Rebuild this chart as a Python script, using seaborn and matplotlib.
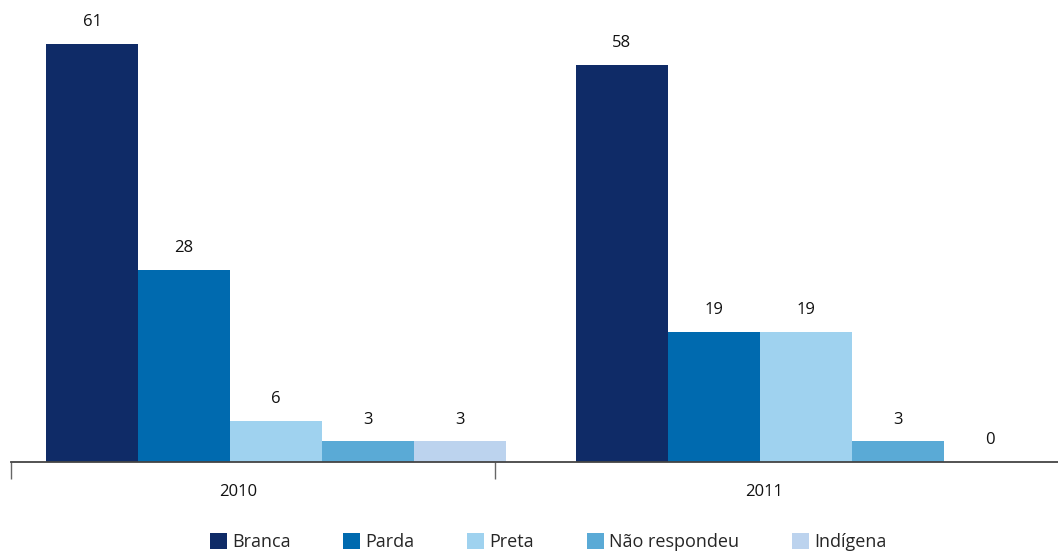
import matplotlib
matplotlib.use("Agg")
import matplotlib.pyplot as plt
import seaborn as sns
import pandas as pd
from matplotlib.patches import Patch

years = ["2010", "2011"]
categories = ["Branca", "Parda", "Preta", "Não respondeu", "Indígena"]
values_2010 = [61, 28, 6, 3, 3]
values_2011 = [58, 19, 19, 3, 0]
colors = ["#0f2b67", "#006aaf", "#9fd2ef", "#5aaad6", "#bcd3ee"]

rows = []
for y, vals in zip(years, [values_2010, values_2011]):
    for c, v in zip(categories, vals):
        rows.append({"Ano": y, "Cor": c, "Valor": v})
df = pd.DataFrame(rows)

sns.set_theme(style="white")
plt.rcParams["font.family"] = ["Open Sans", "DejaVu Sans"]

W, H = 1058, 551
fig = plt.figure(figsize=(W / 100, H / 100), dpi=100)
ax = fig.add_axes([11 / W, (H - 462) / H, (W - 11) / W, 462 / H])

sns.barplot(data=df, x="Ano", y="Valor", hue="Cor", order=years,
            hue_order=categories, palette=colors, width=0.8685,
            saturation=1, ax=ax, legend=False, edgecolor="none", linewidth=0)

for cont in ax.containers:
    ax.bar_label(cont, fmt="%d", padding=10, fontsize=12, color="#111111")

ax.set_xlim(-0.5005, 1.4758)
ax.set_ylim(0, 67.45)
ax.set_xlabel("")
ax.set_ylabel("")
ax.set_yticks([])
for s in ["top", "right", "left"]:
    ax.spines[s].set_visible(False)
ax.spines["bottom"].set_color("#444444")
ax.spines["bottom"].set_linewidth(1.3)

# category labels and separating ticks
ax.set_xticks([-0.072, 0.921], years)
ax.tick_params(axis="x", which="major", length=0, pad=16, labelsize=12, labelcolor="#111111")
ax.set_xticks([-0.5005, 0.414], minor=True)
ax.tick_params(axis="x", which="minor", length=12, width=1.0, color="#666666", bottom=True)

handles = [Patch(facecolor=c, edgecolor="none") for c in colors]
fig.legend(handles, categories, loc="lower center", bbox_to_anchor=(0.518, -0.03),
           ncol=5, frameon=False, fontsize=13, handlelength=0.95, handleheight=0.95,
           handletextpad=0.3, columnspacing=2.9)

fig.savefig("out.png", dpi=100)
